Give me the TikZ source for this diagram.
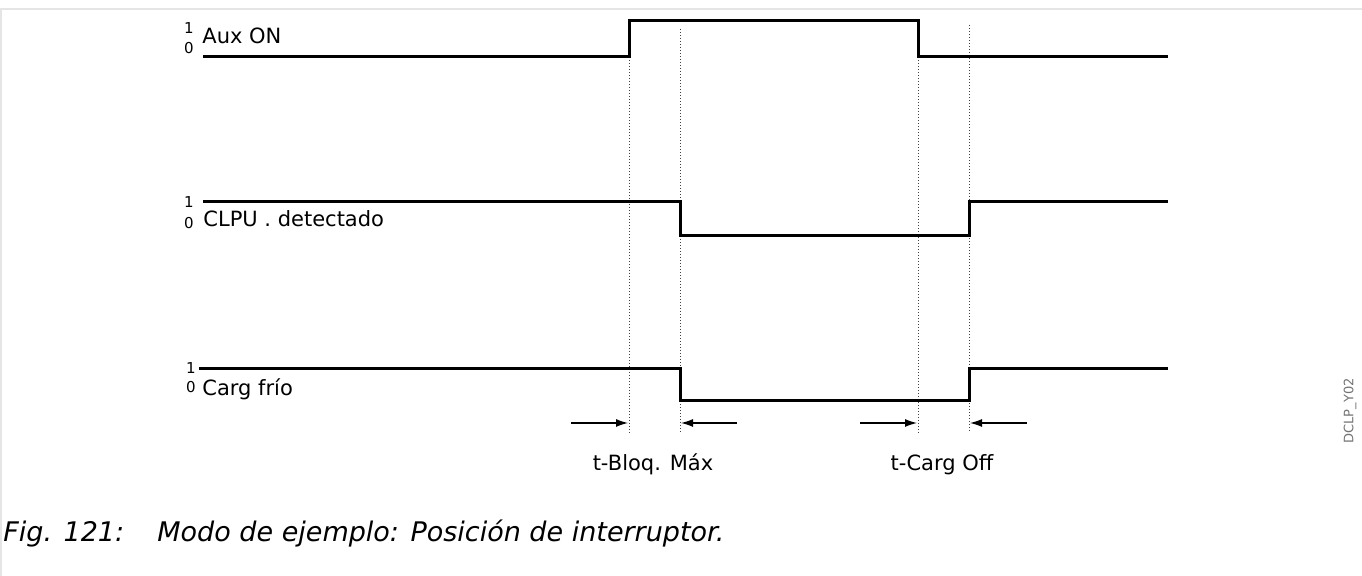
\documentclass[tikz,border=0pt]{standalone}
\usepackage{fontspec}
\setmainfont{DejaVu Sans}
\usetikzlibrary{arrows.meta,positioning}

\begin{document}
\begin{tikzpicture}[x=0.5pt,y=-0.5pt,
 sig/.style={draw=black,line width=1.5pt},
 guide/.style={draw=black!75,densely dotted,line width=0.5pt},
 tarrow/.style={draw=black,line width=0.6pt,-{Latex[length=6pt,width=4pt]}},
 lab/.style={font=\fontsize{10.5}{12}\selectfont,inner sep=0pt,anchor=base west},
 lvl/.style={font=\fontsize{7.5}{8}\selectfont,inner sep=0pt},
 tlab/.style={font=\fontsize{10.5}{12}\selectfont,inner sep=0pt,anchor=base},
 capt/.style={font=\fontsize{13.5}{16}\selectfont\itshape,inner sep=0pt,anchor=base west}]
\useasboundingbox (0,0) rectangle (1362,576);
\draw[black!10,line width=1pt] (0,9)--(1362,9);
\draw[black!10,line width=1pt] (1,9)--(1,576);
% switching instants
\coordinate (ta) at (629,0);
\coordinate (tb) at (680,0);
\coordinate (tc) at (918,0);
\coordinate (td) at (969,0);
% guide lines
\draw[guide] (629,57)--(629,433);
\draw[guide] (680,29)--(680,433);
\draw[guide] (918,57)--(918,433);
\draw[guide] (969,25)--(969,433);
% Aux ON
\node[lvl] (aux1) at (189,28) {1};
\node[lvl] (aux0) at (189,48) {0};
\node[lab] (aux) at (202,44) {Aux ON};
\draw[sig] (203,57)--(ta|-0,57)--(ta|-0,21)--(tc|-0,21)--(tc|-0,57)--(1168,57);
% CLPU detectado
\node[lvl] (clpu1) at (189,202) {1};
\node[lvl] (clpu0) at (189,223) {0};
\node[lab] (clpu) at (203,227) {CLPU . detectado};
\draw[sig] (203,202)--(tb|-0,202)--(tb|-0,236)--(td|-0,236)--(td|-0,202)--(1168,202);
% Carg frio
\node[lvl] (carg1) at (191,368) {1};
\node[lvl] (carg0) at (191,387) {0};
\node[lab] (carg) at (202,396) {Carg frío};
\draw[sig] (199,369)--(tb|-0,369)--(tb|-0,401)--(td|-0,401)--(td|-0,369)--(1168,369);
% time arrows
\coordinate (a1) at (571,423);
\coordinate (a2) at (737,423);
\coordinate (a3) at (860,423);
\coordinate (a4) at (1027,423);
\draw[tarrow] (a1)--(628,423);
\draw[tarrow] (a2)--(681,423);
\draw[tarrow] (a3)--(917,423);
\draw[tarrow] (a4)--(970,423);
\node[tlab] (tbloq) at (653,471) {t-Bloq. Máx};
\node[tlab] (tcarg) at (942,471) {t-Carg Off};
% side code
\node[font=\fontsize{6.5}{7}\selectfont,text=black!55,rotate=90,inner sep=0pt] (code) at (1350,411) {DCLP\_Y02};
% caption
\node[capt] (fig) at (3,542) {Fig. 121:};
\node[capt] (cap) at (157,542) {Modo de ejemplo: Posición de interruptor.};
\end{tikzpicture}
\end{document}
